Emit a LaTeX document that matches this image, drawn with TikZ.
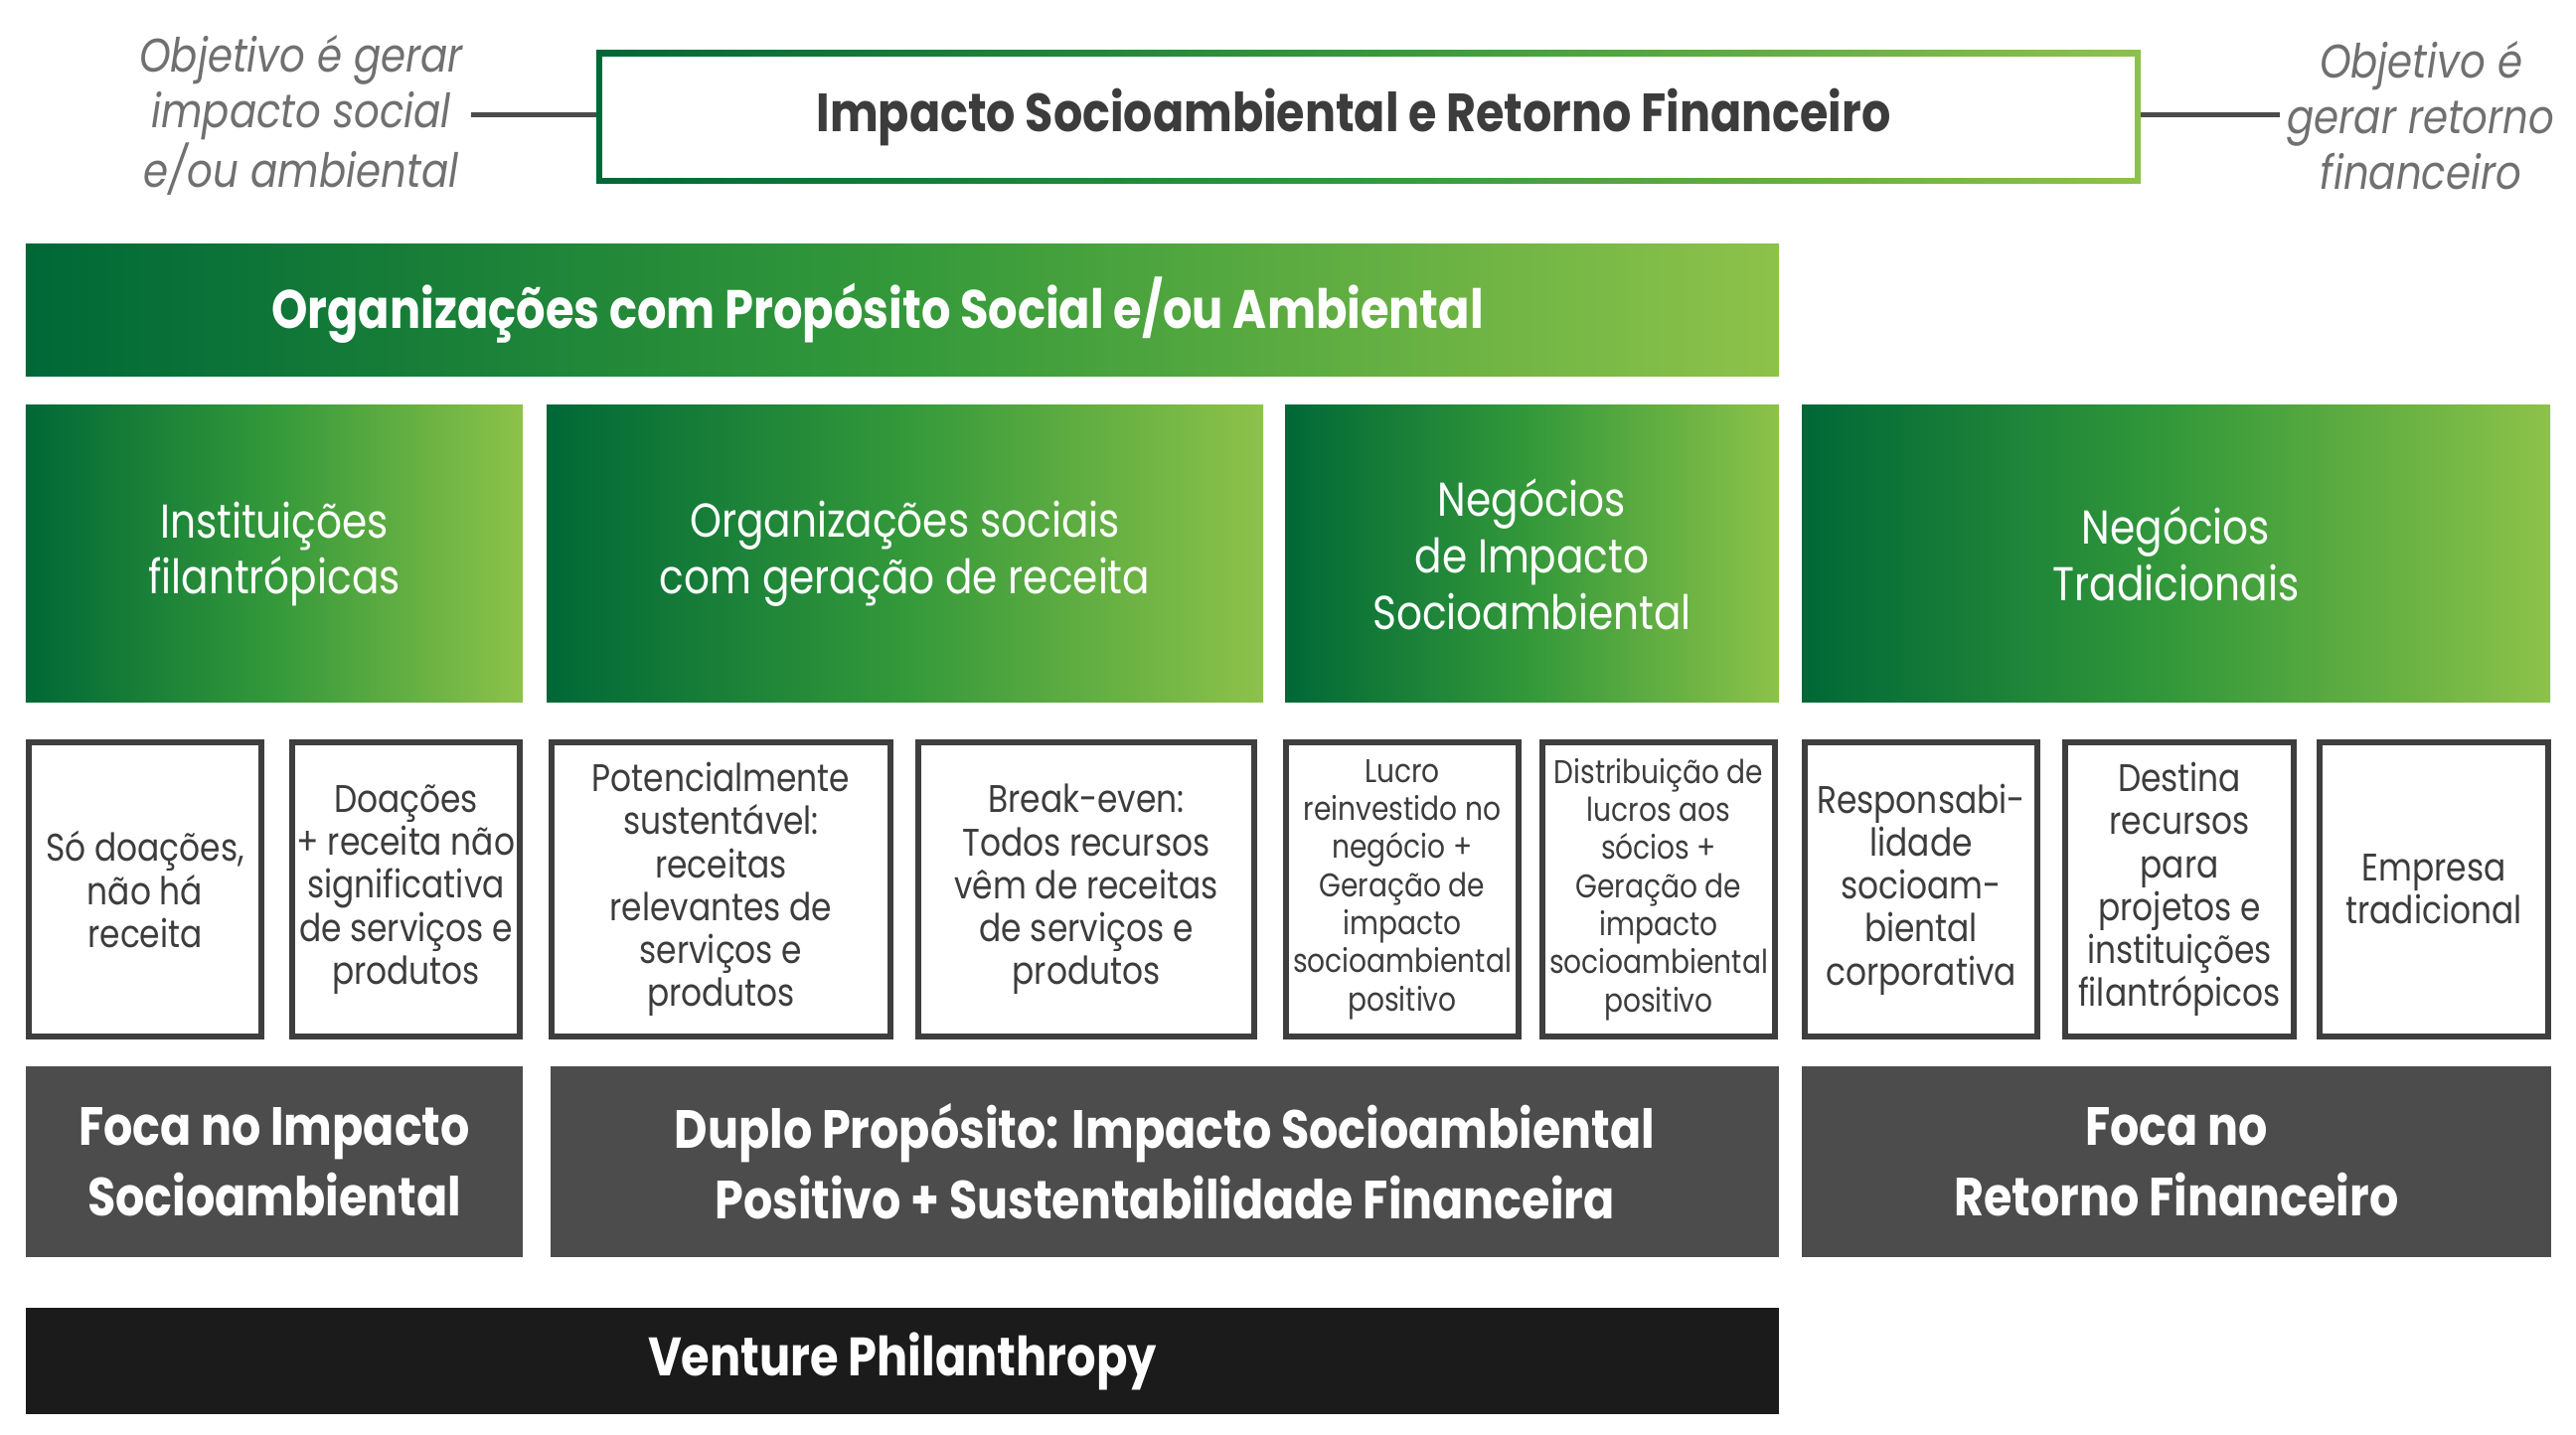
\documentclass[tikz,border=0pt]{standalone}
\usepackage{fontspec}
\setmainfont{Poppins}[FakeStretch=0.85]
\usetikzlibrary{positioning}
\definecolor{gdark}{RGB}{0,104,55}
\definecolor{gmid}{RGB}{52,153,58}
\definecolor{glight}{RGB}{141,194,74}
\definecolor{boxline}{RGB}{62,62,62}
\definecolor{txtgray}{RGB}{60,60,60}
\definecolor{softgray}{RGB}{112,112,112}
\definecolor{focusgray}{RGB}{76,76,76}
\definecolor{ventureblack}{RGB}{27,27,27}

\begin{document}
\begin{tikzpicture}[inner sep=0pt,outer sep=0pt,
  greenbox/.style={left color=gdark,right color=glight,middle color=gmid,text=white,align=center},
  catbox/.style={greenbox,minimum height=2.99cm,font=\fontsize{13.6}{16.2}\selectfont},
  infobox/.style={draw=boxline,line width=0.06cm,fill=white,text=txtgray,align=center,minimum height=2.96cm,
    font=\fontsize{11}{12.3}\selectfont},
  smallinfo/.style={font=\fontsize{9.4}{10.9}\selectfont},
  focusbox/.style={fill=focusgray,text=white,align=center,minimum height=1.92cm,
    font=\fontsize{15.4}{20.2}\selectfont\bfseries},
  sidetext/.style={text=softgray,align=center,inner xsep=0.08cm,font=\fontsize{13.5}{15.9}\selectfont\itshape},
  conn/.style={draw=focusgray,line width=0.05cm}]
  \useasboundingbox (0,0) rectangle (25.92,-14.44);

  % titulo com moldura em degrade
  \node[greenbox,anchor=north west,minimum width=15.54cm,minimum height=1.34cm] (topbox) at (6.00,-0.51) {};
  \node[fill=white,text=txtgray,minimum width=15.42cm,minimum height=1.22cm,
    font=\fontsize{15.4}{17}\selectfont\bfseries] (toptitle) at (topbox.center)
    {\hspace*{-0.3cm}Impacto Socioambiental e Retorno Financeiro};
  \node[sidetext] (objL) at (3.03,-1.16) {Objetivo é gerar\\impacto social\\e/ou ambiental};
  \node[sidetext] (objR) at (24.36,-1.16) {Objetivo é\\gerar retorno\\financeiro};
  \draw[conn] (objL.east) -- (objL.east -| topbox.west);
  \draw[conn] (topbox.east |- objR.west) -- (objR.west);

  % faixa verde
  \node[greenbox,anchor=north west,minimum width=17.64cm,minimum height=1.33cm,font=\fontsize{15.5}{18}\selectfont\bfseries] (orgs) at (0.26,-2.46)
    {\hspace*{-0.5cm}Organizações com Propósito Social e/ou Ambiental};

  % categorias
  \node[catbox,anchor=north west,minimum width=5.00cm] (inst) at (0.26,-4.08) {Instituições\\filantrópicas};
  \node[catbox,minimum width=7.21cm,right=0.24cm of inst] (orgsoc) {Organizações sociais\\com geração de receita};
  \node[catbox,minimum width=4.97cm,right=0.22cm of orgsoc] (negimp) {Negócios\\de Impacto\\Socioambiental};
  \node[catbox,minimum width=7.53cm,right=0.23cm of negimp] (negtrad) {Negócios\\Tradicionais};

  % descricoes
  \node[infobox,anchor=north west,minimum width=2.34cm] (d1) at (0.29,-7.47) {Só doações,\\não há\\receita};
  \node[infobox,minimum width=2.29cm,right=0.31cm of d1] (d2)
    {Doações\\+ receita não\\significativa\\de serviços e\\produtos};
  \node[infobox,minimum width=3.41cm,right=0.32cm of d2] (d3)
    {Potencialmente\\sustentável:\\receitas\\relevantes de\\serviços e\\produtos};
  \node[infobox,minimum width=3.38cm,right=0.28cm of d3] (d4)
    {Break-even:\\Todos recursos\\vêm de receitas\\de serviços e\\produtos};
  \node[infobox,smallinfo,minimum width=2.34cm,right=0.32cm of d4] (d5)
    {Lucro\\reinvestido no\\negócio +\\Geração de\\impacto\\socioambiental\\positivo};
  \node[infobox,smallinfo,minimum width=2.34cm,right=0.24cm of d5] (d6)
    {Distribuição de\\lucros aos\\sócios +\\Geração de\\impacto\\socioambiental\\positivo};
  \node[infobox,minimum width=2.34cm,right=0.30cm of d6] (d7)
    {Responsabi-\\lidade\\socioam-\\biental\\corporativa};
  \node[infobox,minimum width=2.30cm,right=0.28cm of d7] (d8)
    {Destina\\recursos\\para\\projetos e\\instituições\\filantrópicos};
  \node[infobox,minimum width=2.30cm,right=0.26cm of d8] (d9)
    {Empresa\\tradicional};

  % foco
  \node[focusbox,anchor=north west,minimum width=5.00cm] (fimp) at (0.26,-10.73) {Foca no Impacto\\Socioambiental};
  \node[focusbox,minimum width=12.36cm,right=0.28cm of fimp] (fdup)
    {Duplo Propósito: Impacto Socioambiental\\Positivo + Sustentabilidade Financeira};
  \node[focusbox,minimum width=7.54cm,right=0.23cm of fdup] (fret) {Foca no\\Retorno Financeiro};

  % venture philanthropy
  \node[fill=ventureblack,text=white,minimum width=17.64cm,minimum height=1.07cm,anchor=north west,
    font=\fontsize{15.5}{18}\selectfont\bfseries] (venture) at (0.26,-13.16) {Venture Philanthropy};
\end{tikzpicture}
\end{document}
